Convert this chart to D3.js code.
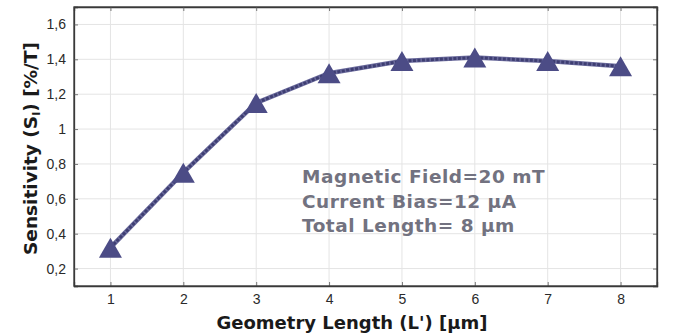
<!DOCTYPE html>
<html>
<head>
<meta charset="utf-8">
<script src="https://cdn.jsdelivr.net/npm/d3@7"></script>
<style>
  html, body { margin: 0; padding: 0; background: #fff; }
  svg { display: block; }
</style>
</head>
<body>
<svg id="chart" width="676" height="335"></svg>
<script>
// Sensitivity versus geometry length
const lengths = [1, 2, 3, 4, 5, 6, 7, 8];
const sensitivity = [0.32, 0.75, 1.15, 1.32, 1.39, 1.41, 1.39, 1.36];
const yTicks = [0.2, 0.4, 0.6, 0.8, 1.0, 1.2, 1.4, 1.6];
const yTickLabels = ["0,2", "0,4", "0,6", "0,8", "1", "1,2", "1,4", "1,6"];
const notes = ["Magnetic Field=20 mT", "Current Bias=12 µA", "Total Length= 8 µm"];

const svg = d3.select("#chart");
const margin = { left: 74, right: 19, top: 7, bottom: 49 };
const W = 676, H = 335;
const iw = W - margin.left - margin.right;
const ih = H - margin.top - margin.bottom;

const x = d3.scaleLinear().domain([0.5, 8.5]).range([margin.left, margin.left + iw]);
const y = d3.scaleLinear().domain([0.1, 1.7]).range([margin.top + ih, margin.top]);

// grid
const grid = svg.append("g");
grid.selectAll(".gx").data(lengths).join("line")
  .attr("x1", d => x(d)).attr("x2", d => x(d))
  .attr("y1", margin.top).attr("y2", margin.top + ih)
  .attr("stroke", "#e4e4e4").attr("stroke-width", 1);
grid.selectAll(".gy").data(yTicks).join("line")
  .attr("x1", margin.left).attr("x2", margin.left + iw)
  .attr("y1", d => y(d)).attr("y2", d => y(d))
  .attr("stroke", "#e4e4e4").attr("stroke-width", 1);

// axes
const fmt = d => yTickLabels[yTicks.indexOf(d)];
const xAxis = svg.append("g")
  .attr("transform", `translate(0,${margin.top + ih})`)
  .call(d3.axisBottom(x).tickValues(lengths).tickSize(-4).tickPadding(8).tickFormat(d3.format("d")));
const xAxisTop = svg.append("g")
  .attr("transform", `translate(0,${margin.top})`)
  .call(d3.axisTop(x).tickValues(lengths).tickSize(-4).tickFormat(""));
const yAxis = svg.append("g")
  .attr("transform", `translate(${margin.left},0)`)
  .call(d3.axisLeft(y).tickValues(yTicks).tickSize(-4).tickPadding(8).tickFormat(fmt));
const yAxisRight = svg.append("g")
  .attr("transform", `translate(${margin.left + iw},0)`)
  .call(d3.axisRight(y).tickValues(yTicks).tickSize(-4).tickFormat(""));

[xAxis, xAxisTop, yAxis, yAxisRight].forEach(g => {
  g.select(".domain").attr("stroke", "#3a3a3a").attr("stroke-width", 1.3);
  g.selectAll(".tick line").attr("stroke", "#777");
  g.selectAll("text")
    .attr("font-family", "'Liberation Sans', Arial, sans-serif")
    .attr("font-size", 14).attr("fill", "#2a2a2a");
});
// close the frame corners
svg.append("rect")
  .attr("x", margin.left).attr("y", margin.top)
  .attr("width", iw).attr("height", ih)
  .attr("fill", "none").attr("stroke", "#3a3a3a").attr("stroke-width", 1.3);

// axis titles
svg.append("text")
  .attr("x", 352).attr("y", 329)
  .attr("text-anchor", "middle")
  .attr("font-family", "'DejaVu Sans', sans-serif").attr("font-weight", "bold")
  .attr("font-size", 18).attr("fill", "#1a1a1a")
  .text("Geometry Length (L') [µm]");

const yt = svg.append("text")
  .attr("transform", `translate(37,${margin.top + ih / 2 + 2}) rotate(-90)`)
  .attr("text-anchor", "middle")
  .attr("font-family", "'DejaVu Sans', sans-serif").attr("font-weight", "bold")
  .attr("font-size", 18.5).attr("fill", "#1a1a1a");
yt.append("tspan").text("Sensitivity (S");
yt.append("tspan").attr("font-size", 11).attr("dy", 3).text("I");
yt.append("tspan").attr("dy", -3).text(") [%/T]");

// data line
const pts = lengths.map((d, i) => [x(d), y(sensitivity[i])]);
const line = d3.line();
svg.append("path").attr("d", line(pts))
  .attr("fill", "none").attr("stroke", "#6a6a9c").attr("stroke-width", 4.5);
svg.append("path").attr("d", line(pts))
  .attr("fill", "none").attr("stroke", "#3e3e72").attr("stroke-width", 3)
  .attr("stroke-dasharray", "3,1.5");

// triangle markers
const tri = (cx, cy) => {
  const hw = 11.5, hh = 10;
  return `M${cx},${cy - hh}L${cx + hw},${cy + hh}L${cx - hw},${cy + hh}Z`;
};
svg.selectAll(".marker").data(pts).join("path")
  .attr("d", d => tri(d[0], d[1]))
  .attr("fill", "#4c4c86");

// annotation
svg.append("g").selectAll("text").data(notes).join("text")
  .attr("x", 302).attr("y", (d, i) => 183 + i * 24.5)
  .attr("font-family", "'DejaVu Sans', sans-serif").attr("font-weight", "bold")
  .attr("font-size", 18.5).attr("letter-spacing", 0.5).attr("fill", "#727280")
  .text(d => d);
</script>
</body>
</html>
